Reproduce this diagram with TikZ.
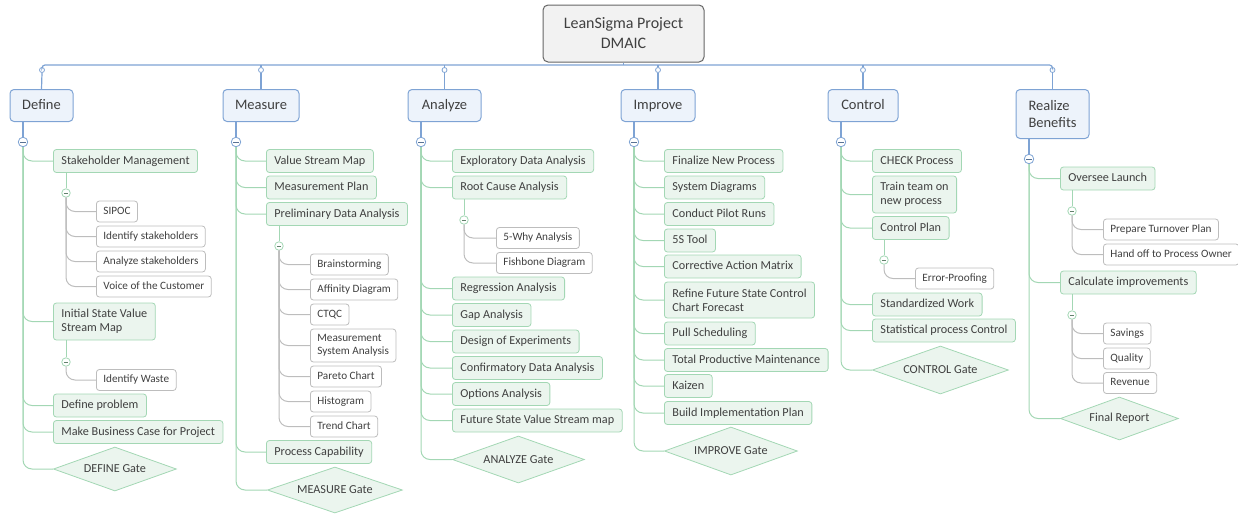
\documentclass[tikz,border=0pt]{standalone}
\usepackage{fontspec}
\setmainfont{Carlito}
\usetikzlibrary{shapes.geometric, calc}
\definecolor{bluebd}{HTML}{7EA3D4}
\definecolor{bluefl}{HTML}{EDF3FB}
\definecolor{greenbd}{HTML}{A3D7B4}
\definecolor{greenfl}{HTML}{EBF5EE}
\definecolor{graybd}{HTML}{BDBDBD}
\definecolor{txt}{HTML}{404040}
\tikzstyle{root} = [rectangle, rounded corners=5, draw=black!60, fill=black!5, line width=1pt, minimum width=161, minimum height=57, align=center, font=\fontsize{16}{20}\selectfont]
\tikzstyle{phase} = [rectangle, anchor=north, rounded corners=4, draw=bluebd, fill=bluefl, line width=1pt, minimum height=32, text height=10, text depth=3, font=\fontsize{14.5}{17}\selectfont]
\tikzstyle{task} = [rectangle, anchor=west, rounded corners=3, draw=greenbd, fill=greenfl, line width=0.8pt, minimum height=23, inner xsep=8, text height=8.5, text depth=2.5, font=\fontsize{12.2}{14}\selectfont]
\tikzstyle{sub} = [rectangle, anchor=west, rounded corners=3, draw=graybd, fill=white, line width=0.8pt, minimum height=21, inner xsep=7, text height=8, text depth=2.2, font=\fontsize{11.2}{13.5}\selectfont]
\tikzstyle{twoline} = [align=left, text height={}, text depth={}]
\tikzstyle{gate} = [diamond, anchor=west, aspect=2.8, inner sep=0, draw=greenbd, fill=greenfl, line width=0.8pt, font=\fontsize{12.2}{14}\selectfont]
\tikzstyle{knob} = [circle, draw=bluebd, fill=white, line width=0.8pt, inner sep=0, minimum size=5]
\tikzstyle{minusb} = [circle, draw=bluebd, fill=white, line width=0.8pt, inner sep=0, minimum size=9.5,
  path picture={\draw[bluebd!70!black, line width=1pt] ([xshift=2pt]path picture bounding box.west) -- ([xshift=-2pt]path picture bounding box.east);}]
\tikzstyle{minusg} = [circle, draw=greenbd, fill=white, line width=0.8pt, inner sep=0, minimum size=8.5,
  path picture={\draw[greenbd!60!black, line width=1pt] ([xshift=2pt]path picture bounding box.west) -- ([xshift=-2pt]path picture bounding box.east);}]
\tikzstyle{busline} = [draw=bluebd, line width=1.2pt]
\tikzstyle{greenline} = [draw=greenbd, line width=1pt, rounded corners=9]
\tikzstyle{grayline} = [draw=graybd, line width=1pt, rounded corners=9]

\begin{document}
\begin{tikzpicture}[x=1pt, y=-1pt, every node/.style={text=txt}]
    \useasboundingbox (0,0) rectangle (1238,514);

    \node[root] (lean) at (623.5,33.5) {LeanSigma Project\\DMAIC};
    \coordinate (bus) at (623.5,65);

    % phases
    \node[phase, minimum width=63] (define) at (41.5,89) {Define};
    \node[phase, minimum width=76] (measure) at (261,89) {Measure};
    \node[phase, minimum width=73] (analyze) at (444.5,89) {Analyze};
    \node[phase, minimum width=74] (improve) at (658,89) {Improve};
    \node[phase, minimum width=70] (control) at (863,89) {Control};
    \node[phase, twoline, minimum width=73, minimum height=49] (realize) at (1052.5,89) {Realize\\Benefits};

    \node[knob] (dk) at (42,70) {};
    \node[knob] (mk) at (261,70) {};
    \node[knob] (ak) at (444.5,70) {};
    \node[knob] (ik) at (658,70) {};
    \node[knob] (ck) at (863,70) {};
    \node[knob] (rk) at (1052.5,70) {};

    \draw[busline] (lean.south) -- (bus);
    \draw[busline, rounded corners=3] (dk.north) |- (bus) -| (rk.north);
    \draw[busline] (mk.north) -- (mk.north |- bus);
    \draw[busline] (ak.north) -- (ak.north |- bus);
    \draw[busline] (ik.north) -- (ik.north |- bus);
    \draw[busline] (ck.north) -- (ck.north |- bus);
    \draw[busline] (dk.south) -- (define.north);
    \draw[busline] (mk.south) -- (measure.north);
    \draw[busline] (ak.south) -- (analyze.north);
    \draw[busline] (ik.south) -- (improve.north);
    \draw[busline] (ck.south) -- (control.north);
    \draw[busline] (rk.south) -- (realize.north);

    % Define
    \node[minusb] (dm) at (23,142) {};
    \node[task] (stake) at (53,161) {Stakeholder Management};
    \node[minusg] (stakem) at (66,193) {};
    \node[sub] (sipoc) at (96,211.5) {SIPOC};
    \node[sub] (identify) at (96,236.5) {Identify stakeholders};
    \node[sub] (analyzes) at (96,261.5) {Analyze stakeholders};
    \node[sub] (voice) at (96,286.5) {Voice of the Customer};
    \node[task, twoline, minimum height=37] (initial) at (53,321.5) {Initial State Value\\Stream Map};
    \node[minusg] (initialm) at (66,362) {};
    \node[sub] (waste) at (96,380) {Identify Waste};
    \node[task] (defprob) at (53,405.5) {Define problem};
    \node[task] (bizcase) at (53,432) {Make Business Case for Project};
    \node[gate, minimum width=123, minimum height=44] (defgate) at (53,469) {DEFINE Gate};

    \draw[busline] (define.south -| dm) -- (dm.north);
    \draw[greenline] (dm.south) |- (stake.west);
    \draw[greenline] (dm.south) |- (initial.west);
    \draw[greenline] (dm.south) |- (defprob.west);
    \draw[greenline] (dm.south) |- (bizcase.west);
    \draw[greenline] (dm.south) |- (defgate.west);
    \draw[greenline] (stake.south -| stakem) -- (stakem.north);
    \draw[grayline] (stakem.south) |- (sipoc.west);
    \draw[grayline] (stakem.south) |- (identify.west);
    \draw[grayline] (stakem.south) |- (analyzes.west);
    \draw[grayline] (stakem.south) |- (voice.west);
    \draw[greenline] (initial.south -| initialm) -- (initialm.north);
    \draw[grayline] (initialm.south) |- (waste.west);

    % Measure
    \node[minusb] (mm) at (236,142) {};
    \node[task] (vsm) at (266,161) {Value Stream Map};
    \node[task] (mplan) at (266,187.5) {Measurement Plan};
    \node[task] (prelim) at (266,214) {Preliminary Data Analysis};
    \node[minusg] (prelimm) at (279,246) {};
    \node[sub] (brain) at (310,264.5) {Brainstorming};
    \node[sub] (affinity) at (310,289.5) {Affinity Diagram};
    \node[sub] (ctqc) at (310,314.5) {CTQC};
    \node[sub, twoline, minimum height=33] (msa) at (310,345.5) {Measurement\\System Analysis};
    \node[sub] (pareto) at (310,376.5) {Pareto Chart};
    \node[sub] (histo) at (310,401.5) {Histogram};
    \node[sub] (trend) at (310,426.5) {Trend Chart};
    \node[task] (capab) at (266,452) {Process Capability};
    \node[gate, minimum width=135, minimum height=46] (measgate) at (267,490) {MEASURE Gate};

    \draw[busline] (measure.south -| mm) -- (mm.north);
    \draw[greenline] (mm.south) |- (vsm.west);
    \draw[greenline] (mm.south) |- (mplan.west);
    \draw[greenline] (mm.south) |- (prelim.west);
    \draw[greenline] (mm.south) |- (capab.west);
    \draw[greenline] (mm.south) |- (measgate.west);
    \draw[greenline] (prelim.south -| prelimm) -- (prelimm.north);
    \draw[grayline] (prelimm.south) |- (brain.west);
    \draw[grayline] (prelimm.south) |- (affinity.west);
    \draw[grayline] (prelimm.south) |- (ctqc.west);
    \draw[grayline] (prelimm.south) |- (msa.west);
    \draw[grayline] (prelimm.south) |- (pareto.west);
    \draw[grayline] (prelimm.south) |- (histo.west);
    \draw[grayline] (prelimm.south) |- (trend.west);

    % Analyze
    \node[minusb] (am) at (421,142) {};
    \node[task] (eda) at (452,161) {Exploratory Data Analysis};
    \node[task] (rca) at (452,187.5) {Root Cause Analysis};
    \node[minusg] (rcam) at (464,220) {};
    \node[sub] (why) at (496,238) {5-Why Analysis};
    \node[sub] (fish) at (496,263) {Fishbone Diagram};
    \node[task] (regr) at (452,288.5) {Regression Analysis};
    \node[task] (gap) at (452,315) {Gap Analysis};
    \node[task] (doe) at (452,341.5) {Design of Experiments};
    \node[task] (cda) at (452,368) {Confirmatory Data Analysis};
    \node[task] (options) at (452,394) {Options Analysis};
    \node[task] (fsvsm) at (452,420.5) {Future State Value Stream map};
    \node[gate, minimum width=132, minimum height=47] (anagate) at (452,459.5) {ANALYZE Gate};

    \draw[busline] (analyze.south -| am) -- (am.north);
    \draw[greenline] (am.south) |- (eda.west);
    \draw[greenline] (am.south) |- (rca.west);
    \draw[greenline] (am.south) |- (regr.west);
    \draw[greenline] (am.south) |- (gap.west);
    \draw[greenline] (am.south) |- (doe.west);
    \draw[greenline] (am.south) |- (cda.west);
    \draw[greenline] (am.south) |- (options.west);
    \draw[greenline] (am.south) |- (fsvsm.west);
    \draw[greenline] (am.south) |- (anagate.west);
    \draw[greenline] (rca.south -| rcam) -- (rcam.north);
    \draw[grayline] (rcam.south) |- (why.west);
    \draw[grayline] (rcam.south) |- (fish.west);

    % Improve
    \node[minusb] (im) at (634,142) {};
    \node[task] (finalize) at (664,161) {Finalize New Process};
    \node[task] (sysdiag) at (664,187.5) {System Diagrams};
    \node[task] (pilot) at (664,214) {Conduct Pilot Runs};
    \node[task] (fives) at (664,240.5) {5S Tool};
    \node[task] (cam) at (664,266.5) {Corrective Action Matrix};
    \node[task, twoline, minimum height=36] (refine) at (664,300) {Refine Future State Control\\Chart Forecast};
    \node[task] (pull) at (664,333.5) {Pull Scheduling};
    \node[task] (tpm) at (664,360) {Total Productive Maintenance};
    \node[task] (kaizen) at (664,386) {Kaizen};
    \node[task] (buildplan) at (664,413) {Build Implementation Plan};
    \node[gate, minimum width=133, minimum height=48] (impgate) at (664,451) {IMPROVE Gate};

    \draw[busline] (improve.south -| im) -- (im.north);
    \draw[greenline] (im.south) |- (finalize.west);
    \draw[greenline] (im.south) |- (sysdiag.west);
    \draw[greenline] (im.south) |- (pilot.west);
    \draw[greenline] (im.south) |- (fives.west);
    \draw[greenline] (im.south) |- (cam.west);
    \draw[greenline] (im.south) |- (refine.west);
    \draw[greenline] (im.south) |- (pull.west);
    \draw[greenline] (im.south) |- (tpm.west);
    \draw[greenline] (im.south) |- (kaizen.west);
    \draw[greenline] (im.south) |- (buildplan.west);
    \draw[greenline] (im.south) |- (impgate.west);

    % Control
    \node[minusb] (cm) at (841,142) {};
    \node[task] (check) at (872,161) {CHECK Process};
    \node[task, twoline, minimum height=37] (train) at (872,194.5) {Train team on\\new process};
    \node[task] (cplan) at (872,228) {Control Plan};
    \node[minusg] (cplanm) at (884,260) {};
    \node[sub] (errproof) at (915,278.5) {Error-Proofing};
    \node[task] (stdwork) at (872,304.5) {Standardized Work};
    \node[task] (spc) at (872,330.5) {Statistical process Control};
    \node[gate, minimum width=136, minimum height=48] (ctrlgate) at (872,370) {CONTROL Gate};

    \draw[busline] (control.south -| cm) -- (cm.north);
    \draw[greenline] (cm.south) |- (check.west);
    \draw[greenline] (cm.south) |- (train.west);
    \draw[greenline] (cm.south) |- (cplan.west);
    \draw[greenline] (cm.south) |- (stdwork.west);
    \draw[greenline] (cm.south) |- (spc.west);
    \draw[greenline] (cm.south) |- (ctrlgate.west);
    \draw[greenline] (cplan.south -| cplanm) -- (cplanm.north);
    \draw[grayline] (cplanm.south) |- (errproof.west);

    % Realize Benefits
    \node[minusb] (rm) at (1029,159) {};
    \node[task] (oversee) at (1060,178.5) {Oversee Launch};
    \node[minusg] (overseem) at (1072,211) {};
    \node[sub] (turnover) at (1103,229.5) {Prepare Turnover Plan};
    \node[sub] (handoff) at (1103,254.5) {Hand off to Process Owner};
    \node[task] (calc) at (1060,282.5) {Calculate improvements};
    \node[minusg] (calcm) at (1072,315) {};
    \node[sub] (savings) at (1103,333.5) {Savings};
    \node[sub] (quality) at (1103,358.5) {Quality};
    \node[sub] (revenue) at (1103,383) {Revenue};
    \node[gate, minimum width=118, minimum height=43] (finalrep) at (1060,418.5) {Final Report};

    \draw[busline] (realize.south -| rm) -- (rm.north);
    \draw[greenline] (rm.south) |- (oversee.west);
    \draw[greenline] (rm.south) |- (calc.west);
    \draw[greenline] (rm.south) |- (finalrep.west);
    \draw[greenline] (oversee.south -| overseem) -- (overseem.north);
    \draw[grayline] (overseem.south) |- (turnover.west);
    \draw[grayline] (overseem.south) |- (handoff.west);
    \draw[greenline] (calc.south -| calcm) -- (calcm.north);
    \draw[grayline] (calcm.south) |- (savings.west);
    \draw[grayline] (calcm.south) |- (quality.west);
    \draw[grayline] (calcm.south) |- (revenue.west);

\end{tikzpicture}
\end{document}
